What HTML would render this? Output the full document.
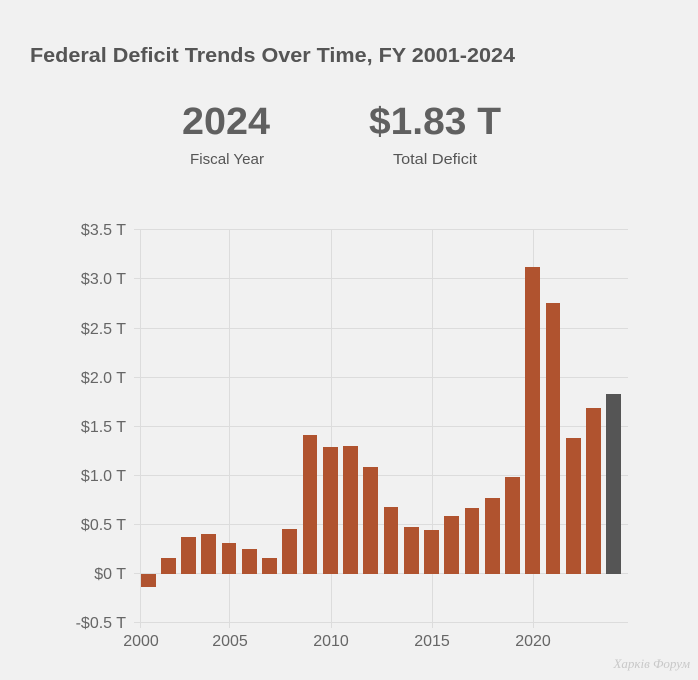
<!DOCTYPE html>
<html><head><meta charset="utf-8"><style>
html,body{margin:0;padding:0;background:#f1f1f1;}
svg{display:block;font-family:"Liberation Sans",sans-serif;}
</style></head><body>
<svg width="698" height="680" viewBox="0 0 698 680" xmlns="http://www.w3.org/2000/svg">
<rect width="698" height="680" fill="#f1f1f1"/>
<text x="30" y="62" font-size="20" font-weight="bold" fill="#555" textLength="485" lengthAdjust="spacingAndGlyphs">Federal Deficit Trends Over Time, FY 2001-2024</text>
<text x="226" y="134" font-size="38" font-weight="bold" fill="#606060" text-anchor="middle" textLength="88" lengthAdjust="spacingAndGlyphs">2024</text>
<text x="435" y="134" font-size="38" font-weight="bold" fill="#606060" text-anchor="middle" textLength="132" lengthAdjust="spacingAndGlyphs">$1.83 T</text>
<text x="227" y="164" font-size="15" fill="#555" text-anchor="middle" textLength="74" lengthAdjust="spacingAndGlyphs">Fiscal Year</text>
<text x="435" y="164" font-size="15" fill="#555" text-anchor="middle" textLength="84" lengthAdjust="spacingAndGlyphs">Total Deficit</text>
<g stroke="#dcdcdc" stroke-width="1">
<line x1="134" x2="628" y1="229.5" y2="229.5"/>
<line x1="134" x2="628" y1="278.5" y2="278.5"/>
<line x1="134" x2="628" y1="328.5" y2="328.5"/>
<line x1="134" x2="628" y1="377.5" y2="377.5"/>
<line x1="134" x2="628" y1="426.5" y2="426.5"/>
<line x1="134" x2="628" y1="475.5" y2="475.5"/>
<line x1="134" x2="628" y1="524.5" y2="524.5"/>
<line x1="134" x2="628" y1="573.5" y2="573.5"/>
<line x1="134" x2="628" y1="622.5" y2="622.5"/>
<line x1="140.5" x2="140.5" y1="229" y2="628"/>
<line x1="229.5" x2="229.5" y1="229" y2="628"/>
<line x1="331.5" x2="331.5" y1="229" y2="628"/>
<line x1="432.5" x2="432.5" y1="229" y2="628"/>
<line x1="533.5" x2="533.5" y1="229" y2="628"/>
</g>
<g font-size="16" fill="#666" text-anchor="end">
<text x="126" y="235">$3.5 T</text>
<text x="126" y="284">$3.0 T</text>
<text x="126" y="334">$2.5 T</text>
<text x="126" y="383">$2.0 T</text>
<text x="126" y="432">$1.5 T</text>
<text x="126" y="481">$1.0 T</text>
<text x="126" y="530">$0.5 T</text>
<text x="126" y="579">$0 T</text>
<text x="126" y="628">-$0.5 T</text>
</g>
<g font-size="16" fill="#666" text-anchor="middle">
<text x="141" y="646">2000</text>
<text x="230" y="646">2005</text>
<text x="331" y="646">2010</text>
<text x="432" y="646">2015</text>
<text x="533" y="646">2020</text>
</g>
<g fill="#b0532f">
<rect x="141" y="574" width="15" height="13"/>
<rect x="161" y="558" width="15" height="16"/>
<rect x="181" y="537" width="15" height="37"/>
<rect x="201" y="534" width="15" height="40"/>
<rect x="222" y="543" width="14" height="31"/>
<rect x="242" y="549" width="15" height="25"/>
<rect x="262" y="558" width="15" height="16"/>
<rect x="282" y="529" width="15" height="45"/>
<rect x="303" y="435" width="14" height="139"/>
<rect x="323" y="447" width="15" height="127"/>
<rect x="343" y="446" width="15" height="128"/>
<rect x="363" y="467" width="15" height="107"/>
<rect x="384" y="507" width="14" height="67"/>
<rect x="404" y="527" width="15" height="47"/>
<rect x="424" y="530" width="15" height="44"/>
<rect x="444" y="516" width="15" height="58"/>
<rect x="465" y="508" width="14" height="66"/>
<rect x="485" y="498" width="15" height="76"/>
<rect x="505" y="477" width="15" height="97"/>
<rect x="525" y="267" width="15" height="307"/>
<rect x="546" y="303" width="14" height="271"/>
<rect x="566" y="438" width="15" height="136"/>
<rect x="586" y="408" width="15" height="166"/>
</g>
<rect x="606" y="394" width="15" height="180" fill="#555"/>
<text x="690" y="668" font-size="13" font-style="italic" fill="#c8c8c8" text-anchor="end" font-family="Liberation Serif,serif">Харків Форум</text>
</svg>
</body></html>
